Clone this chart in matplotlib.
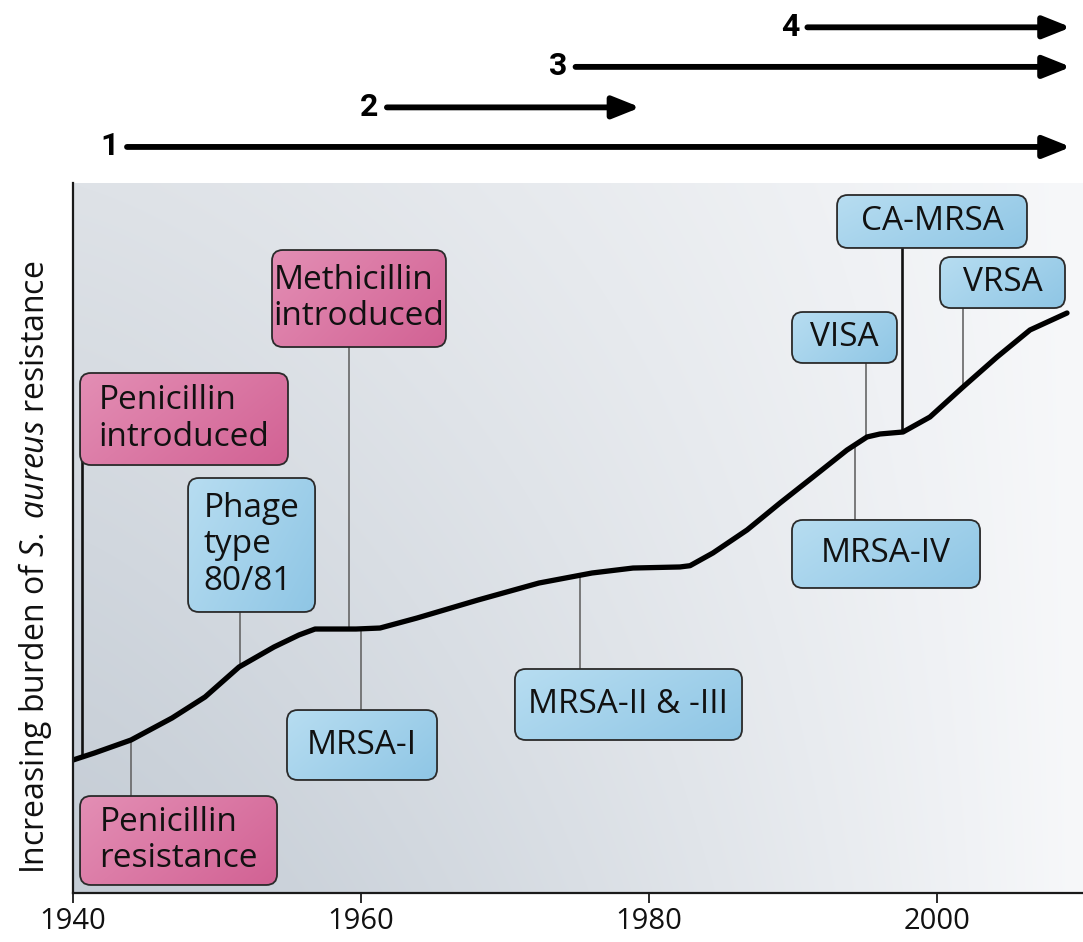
import numpy as np
import matplotlib
matplotlib.use("Agg")
import matplotlib.pyplot as plt
from matplotlib.patches import FancyBboxPatch
from matplotlib.transforms import blended_transform_factory

# ---------------- data ----------------
years = [1940.0, 1941.49, 1944.03, 1946.88, 1949.17, 1951.53, 1953.96, 1955.69, 1956.81,
         1959.65, 1961.32, 1963.89, 1968.13, 1972.36, 1976.04, 1978.89, 1982.15, 1982.85,
         1984.44, 1986.81, 1989.10, 1991.39, 1993.75, 1995.14, 1996.04, 1997.64,
         1999.51, 2001.81, 2004.17, 2006.46, 2009.03]
burden = [18.73, 19.72, 21.55, 24.65, 27.61, 31.83, 34.65, 36.34, 37.18,
          37.18, 37.32, 38.73, 41.27, 43.66, 45.07, 45.77, 45.92, 46.1,
          47.89, 51.13, 54.93, 58.59, 62.39, 64.23, 64.65, 64.93,
          67.04, 71.27, 75.49, 79.30, 81.69]

event_labels = ["Penicillin\nintroduced", "Phage\ntype\n80/81", "Methicillin\nintroduced",
                "MRSA-I", "Penicillin\nresistance", "MRSA-II & -III", "MRSA-IV",
                "VISA", "CA-MRSA", "VRSA"]
event_years = [1940.6, 1951.6, 1959.2, 1960.0, 1944.0, 1975.2, 1994.3, 1995.1, 1997.6, 2001.8]
event_kind = ["drug", "strain", "drug", "strain", "drug", "strain", "strain",
              "strain", "strain", "strain"]

tick_years = [1940, 1960, 1980, 2000]
tick_labels = ["1940", "1960", "1980", "2000"]

era_labels = ["1", "2", "3", "4"]
era_start = [1943.75, 1961.8, 1974.9, 1991.0]
era_end = [2009.3, 1979.4, 2009.3, 2009.3]

# ---------------- layout ----------------
# label boxes: (x0, x1, y0, y1) in data units
box_ext = [(1940.49, 1954.93, 60.28, 73.24),
           (1947.99, 1956.81, 39.58, 58.45),
           (1953.82, 1965.90, 76.90, 90.56),
           (1954.86, 1965.28, 15.92, 25.77),
           (1940.49, 1954.17, 1.13, 13.66),
           (1970.69, 1986.46, 21.55, 31.55),
           (1989.93, 2002.99, 42.96, 52.54),
           (1989.93, 1997.22, 74.65, 81.83),
           (1993.06, 2006.25, 90.85, 98.31),
           (2000.21, 2008.89, 82.39, 89.58)]
era_rows = [0.844, 0.886, 0.929, 0.971]

FONT = "Open Sans"
plt.rcParams["font.family"] = [FONT, "DejaVu Sans"]
plt.rcParams["mathtext.fontset"] = "custom"
plt.rcParams["mathtext.rm"] = FONT
plt.rcParams["mathtext.it"] = FONT + ":italic"

W, H = 1083, 942
fig = plt.figure(figsize=(W / 100, H / 100), dpi=100)
ax = fig.add_axes([73 / W, 49 / H, 1010 / W, 710 / H])
xmin, xmax, ymin, ymax = 1940, 2010.14, 0, 100
ax.set_xlim(xmin, xmax)
ax.set_ylim(ymin, ymax)

# background gradient
ny, nx = 120, 240
yy, xx = np.mgrid[0:1:ny * 1j, 0:1:nx * 1j]   # yy=0 bottom
left_bot = np.array([196, 204, 213]) / 255
left_top = np.array([222, 226, 231]) / 255
right_c = np.array([247, 248, 250]) / 255
leftc = left_bot[None, None, :] * (1 - yy[..., None]) + left_top[None, None, :] * yy[..., None]
t = (xx ** 1.25)[..., None]
bg = leftc * (1 - t) + right_c[None, None, :] * t
ax.imshow(bg, extent=(xmin, xmax, ymin, ymax), origin="lower", aspect="auto",
          zorder=0, interpolation="bicubic")

# curve
ax.plot(years, burden, color="black", lw=3.8, solid_capstyle="round",
        solid_joinstyle="round", zorder=4)

# aspect for rounded corners
aspect = (1010 / (xmax - xmin)) / (710 / (ymax - ymin))

pink_light = np.array([230, 150, 186]) / 255
pink_dark = np.array([210, 98, 148]) / 255
blue_light = np.array([190, 225, 243]) / 255
blue_dark = np.array([143, 198, 229]) / 255

for lab, yr, kind, (x0, x1, y0, y1) in zip(event_labels, event_years, event_kind, box_ext):
    yc = (y0 + y1) / 2
    ycurve = np.interp(yr, years, burden)
    dark = yr in (1940.6, 1997.6)
    ax.plot([yr, yr], [ycurve, yc], color="#111111" if dark else "#666666",
            lw=1.9 if dark else 1.2, zorder=3)
    patch = FancyBboxPatch((x0, y0), x1 - x0, y1 - y0,
                           boxstyle="round,pad=0,rounding_size=0.75",
                           mutation_aspect=aspect, facecolor="none",
                           edgecolor="#2a2a2a", lw=1.3, zorder=6)
    ax.add_patch(patch)
    gy, gx = np.mgrid[0:1:30j, 0:1:60j]
    f = np.clip(0.15 + 0.55 * gx + 0.3 * (1 - gy), 0, 1)[..., None]
    lc, dc = (pink_light, pink_dark) if kind == "drug" else (blue_light, blue_dark)
    img = lc[None, None, :] * (1 - f) + dc[None, None, :] * f
    im = ax.imshow(img, extent=(x0, x1, y0, y1), origin="lower", aspect="auto",
                   zorder=5, interpolation="bicubic")
    im.set_clip_path(patch)
    ax.text((x0 + x1) / 2, yc, lab, ha="center", va="center", multialignment="left",
            fontsize=24, color="#111111", zorder=7, linespacing=1.15)

ax.set_xlim(xmin, xmax)
ax.set_ylim(ymin, ymax)

# axes styling
for s in ("top", "right"):
    ax.spines[s].set_visible(False)
for s in ("left", "bottom"):
    ax.spines[s].set_color("#1a1a1a")
    ax.spines[s].set_linewidth(1.6)
    ax.spines[s].set_zorder(8)
ax.set_yticks([])
ax.set_xticks(tick_years)
ax.set_xticklabels(tick_labels)
ax.tick_params(axis="x", direction="out", length=7, width=1.3, labelsize=21, pad=3,
               color="#1a1a1a", labelcolor="#111111")

fig.text(35 / W, 1 - 567 / H, r"Increasing burden of $\mathit{S.}$ $\mathit{aureus}$ resistance",
         rotation=90, ha="center", va="center", fontsize=23, color="#111111")

# era arrows
trans = blended_transform_factory(ax.transData, fig.transFigure)
for lab, xs, xe, yr in zip(era_labels, era_start, era_end, era_rows):
    ax.annotate("", xy=(xe, yr), xytext=(xs, yr), xycoords=trans, textcoords=trans,
                annotation_clip=False,
                arrowprops=dict(arrowstyle="-|>,head_length=0.55,head_width=0.22",
                                mutation_scale=30, lw=4.2, color="black",
                                shrinkA=0, shrinkB=0))
    ax.annotate(lab, xy=(xs, yr), xycoords=trans, xytext=(-6, -6),
                textcoords="offset points", ha="right", va="baseline",
                fontsize=23, fontweight="bold", family="Roboto",
                annotation_clip=False)

fig.savefig("out.png", dpi=100)
